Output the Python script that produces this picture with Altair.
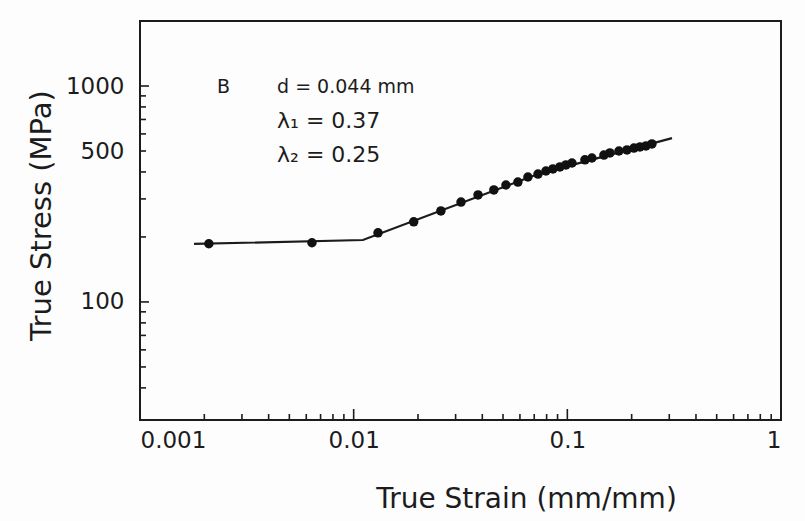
import altair as alt
import pandas as pd

# Measured true strain / true stress (log-log)
strain = [0.00210, 0.00638, 0.0130, 0.0191, 0.0256, 0.0318, 0.0382, 0.0453,
          0.0516, 0.0587, 0.0654, 0.0729, 0.0794, 0.0856, 0.0923, 0.0985,
          0.1051, 0.1209, 0.1303, 0.1483, 0.1582, 0.1744, 0.1901, 0.2050,
          0.2187, 0.2333, 0.2488]
stress = [186, 188, 209, 235, 264, 290, 313, 330,
          348, 359, 379, 391, 404, 413, 422, 431,
          440, 455, 464, 479, 490, 500, 506, 516,
          522, 528, 539]

# Piecewise power-law fit (plateau, lambda1 = 0.37, lambda2 = 0.25)
fit_strain = [0.00179, 0.01105, 0.073, 0.309]
fit_stress = [185.6, 193.6, 391, 574]

# Axis tick values
x_major = [0.001, 0.01, 0.1, 1]
x_minor = [m * d for d in (0.001, 0.01, 0.1) for m in range(2, 10)]
y_major = [100, 1000]
y_minor = [40, 50, 60, 70, 80, 90, 200, 300, 400, 500, 600, 700, 800, 900]
y_labels = [100, 500, 1000]

# Annotation text and anchor points (data coordinates)
head_text = ["B", "d = 0.044 mm"]
head_x = [0.00229, 0.00438]
head_y = [928, 928]
lam_text = ["λ₁ = 0.37", "λ₂ = 0.25"]
lam_x = [0.00438, 0.00438]
lam_y = [639, 445]

W, H = 641, 399
FONT = "DejaVu Sans"
INK = "#1c1c1c"

xs = alt.Scale(type="log", domain=[0.001, 1], nice=False, zero=False)
ys = alt.Scale(type="log", domain=[28.4, 2000], nice=False, zero=False)

pts = pd.DataFrame({"strain": strain, "stress": stress})
fit = pd.DataFrame({"strain": fit_strain, "stress": fit_stress})

x_axis = alt.Axis(
    values=x_major, format="~g", ticks=False, domain=False, grid=False,
    labelFont=FONT, labelFontSize=23, labelColor=INK, labelPadding=9,
    title="True Strain (mm/mm)", titleFont=FONT, titleFontSize=28,
    titleFontWeight="normal", titleColor=INK, titleX=386, titleY=87,
    titleAlign="center", titleBaseline="alphabetic",
)
y_axis = alt.Axis(
    values=y_labels, format="d", ticks=False, domain=False, grid=False,
    labelFont=FONT, labelFontSize=23, labelColor=INK, labelPadding=16,
    title="True Stress (MPa)", titleFont=FONT, titleFontSize=29,
    titleFontWeight="normal", titleColor=INK, titleX=-90, titleY=194,
    titleAngle=270, titleAlign="center", titleBaseline="alphabetic",
)


def X(field):
    return alt.X(field, scale=xs, axis=x_axis)


def Y(field):
    return alt.Y(field, scale=ys, axis=y_axis)


line = alt.Chart(fit).mark_line(color=INK, strokeWidth=2.2).encode(
    x=X("strain:Q"), y=Y("stress:Q"),
)

dots = alt.Chart(pts).mark_circle(color="#111111", opacity=1, size=90).encode(
    x=X("strain:Q"), y=Y("stress:Q"),
)


def y_ticks(values, length):
    df = pd.DataFrame({"v": values})
    return alt.Chart(df).mark_rule(color=INK, strokeWidth=1.6).encode(
        y=Y("v:Q"), x=alt.value(0), x2=alt.value(length),
    )


def x_ticks(values, length):
    df = pd.DataFrame({"v": values})
    return alt.Chart(df).mark_rule(color=INK, strokeWidth=1.6).encode(
        x=X("v:Q"), y=alt.value(H), y2=alt.value(H - length),
    )


head = alt.Chart(pd.DataFrame({"x": head_x, "y": head_y, "t": head_text})).mark_text(
    font=FONT, fontSize=19, color=INK, align="left", baseline="alphabetic"
).encode(x=X("x:Q"), y=Y("y:Q"), text="t:N")

lam = alt.Chart(pd.DataFrame({"x": lam_x, "y": lam_y, "t": lam_text})).mark_text(
    font=FONT, fontSize=22, color=INK, align="left", baseline="alphabetic"
).encode(x=X("x:Q"), y=Y("y:Q"), text="t:N")

chart = alt.layer(
    line, dots,
    y_ticks(y_major, 9), y_ticks(y_minor, 6),
    x_ticks(x_major, 11), x_ticks(x_minor, 6),
    head, lam,
).properties(
    width=W, height=H,
    autosize=alt.AutoSizeParams(type="none"),
    padding={"left": 140, "top": 21, "right": 24, "bottom": 101},
    background="#fdfdfd",
).configure_view(
    stroke=INK, strokeWidth=2, fill="#fdfdfd",
)

chart.save("out.html", embed_options={"renderer": "svg", "actions": False})
